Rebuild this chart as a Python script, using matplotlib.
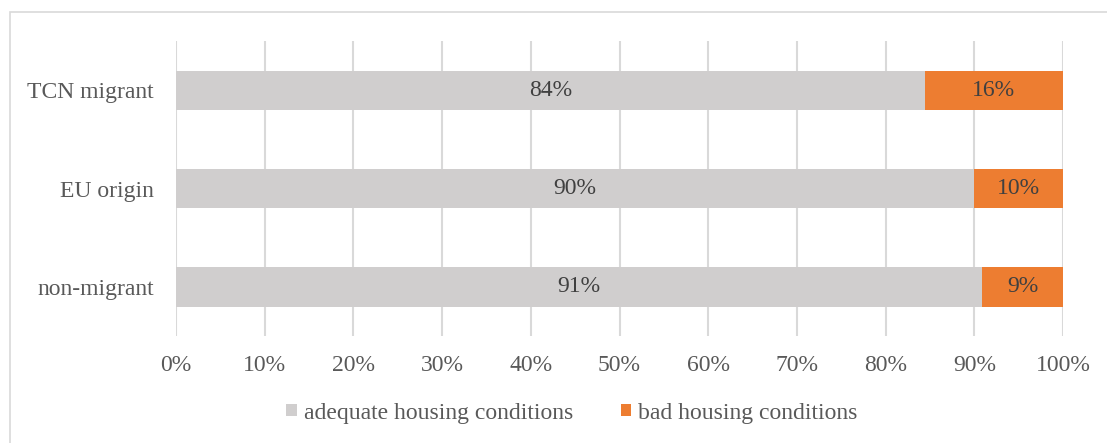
import matplotlib.pyplot as plt
from matplotlib.patches import Rectangle

# data (share of each group, %)
groups = ["non-migrant", "EU origin", "TCN migrant"]
adequate = [90.9, 90.0, 84.4]
bad = [9.1, 10.0, 15.6]
adequate_labels = ["91%", "90%", "84%"]
bad_labels = ["9%", "10%", "16%"]
ticks = [0, 10, 20, 30, 40, 50, 60, 70, 80, 90, 100]

grey = "#D0CECE"
orange = "#ED7D31"
txt = "#595959"

plt.rcParams['font.family'] = ['Liberation Serif', 'DejaVu Serif']

fig = plt.figure(figsize=(11.07, 4.43), dpi=100)
W, H = 1107, 443
ax = fig.add_axes([176 / W, 1 - 336 / H, (1063 - 176) / W, (336 - 41) / H])

# outer chart border (runs off the canvas at right/bottom)
fig.patches.append(Rectangle((10 / W, -0.1), 1.2, 1 - 12 / H + 0.1,
                             transform=fig.transFigure, fill=False,
                             edgecolor="#D9D9D9", linewidth=1.2))

y = range(len(groups))
b1 = ax.barh(y, adequate, height=0.4, color=grey, label="adequate housing conditions", zorder=3)
b2 = ax.barh(y, bad, left=adequate, height=0.4, color=orange, label="bad housing conditions", zorder=3)

for i in y:
    ax.text(adequate[i] / 2, i, adequate_labels[i], ha="center", va="center",
            fontsize=17, color="#404040", zorder=4)
    ax.text(adequate[i] + bad[i] / 2, i, bad_labels[i], ha="center", va="center",
            fontsize=17, color="#404040", zorder=4)

ax.set_xlim(0, 100)
ax.set_ylim(-0.5, 2.5)
ax.set_xticks(ticks)
ax.set_xticklabels([f"{t}%" for t in ticks])
ax.set_yticks(list(y))
ax.set_yticklabels(groups)
ax.tick_params(axis="both", length=0, labelsize=17, colors=txt)
ax.tick_params(axis="x", pad=14)
ax.tick_params(axis="y", pad=16)
ax.xaxis.grid(True, color="#D9D9D9", linewidth=1.5, zorder=0)
for s in ax.spines.values():
    s.set_visible(False)

leg = fig.legend(handles=[b1, b2], loc="center", bbox_to_anchor=(572 / W, 1 - 413 / H),
                 ncol=2, frameon=False, fontsize=17, handlelength=0.45, handleheight=0.45,
                 handletextpad=0.3, columnspacing=2.0)
for t in leg.get_texts():
    t.set_color(txt)

fig.savefig("out.png", dpi=100)
